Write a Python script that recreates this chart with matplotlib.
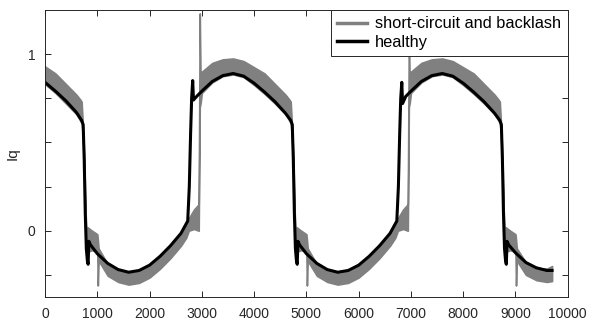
import matplotlib
matplotlib.use("Agg")
import matplotlib.pyplot as plt
from matplotlib.lines import Line2D
from matplotlib.ticker import FixedLocator, FixedFormatter

plt.rcParams['font.family'] = ['Liberation Sans', 'DejaVu Sans']

# healthy Iq
healthy_x = [0, 200, 400, 600, 700, 730, 750, 770, 790, 810, 825, 838, 870, 1000, 1200, 1400, 1600, 1800, 2000, 2200, 2400, 2600, 2730, 2760, 2785, 2805, 2825, 2840, 2900, 3000, 3200, 3400, 3600, 3800,
             4000, 4200, 4400, 4600, 4700, 4730, 4750, 4770, 4790, 4810, 4825, 4838, 4870, 5000, 5200, 5400, 5600, 5800, 6000, 6200, 6400, 6600, 6730, 6760, 6785, 6805, 6825, 6840, 6900, 7000, 7200, 7400, 7600, 7800,
             8000, 8200, 8400, 8600, 8700, 8730, 8750, 8770, 8790, 8810, 8825, 8838, 8870, 9000, 9200, 9400, 9600, 9700]
healthy_y = [0.84, 0.79, 0.735, 0.67, 0.625, 0.60, 0.40, 0.10, -0.10, -0.17, -0.19, -0.06, -0.08, -0.13, -0.185, -0.22, -0.235, -0.225, -0.195, -0.145, -0.085, -0.015, 0.055, 0.25, 0.55, 0.75, 0.85, 0.74, 0.76, 0.79, 0.845, 0.878, 0.89, 0.875,
             0.835, 0.785, 0.73, 0.665, 0.625, 0.60, 0.40, 0.10, -0.10, -0.17, -0.19, -0.06, -0.08, -0.13, -0.185, -0.22, -0.235, -0.225, -0.195, -0.145, -0.085, -0.015, 0.055, 0.25, 0.55, 0.75, 0.84, 0.72, 0.76, 0.79, 0.845, 0.878, 0.89, 0.875,
             0.835, 0.785, 0.73, 0.665, 0.625, 0.60, 0.40, 0.10, -0.10, -0.17, -0.19, -0.06, -0.08, -0.125, -0.18, -0.21, -0.225, -0.225]

# short-circuit and backlash Iq: envelope of the fast oscillation
fault_x = [0, 200, 400, 600, 680, 700, 720, 750, 770, 790, 810, 900, 1000, 1010, 1025, 1200, 1400, 1600, 1800, 2000, 2200, 2400, 2600, 2700, 2750, 2850, 2940, 2960, 2975, 3000, 3200, 3400, 3600, 3800,
           4000, 4200, 4400, 4600, 4680, 4700, 4720, 4750, 4770, 4790, 4810, 4900, 5000, 5010, 5025, 5200, 5400, 5600, 5800, 6000, 6200, 6400, 6600, 6700, 6750, 6850, 6940, 6960, 6975, 7000, 7200, 7400, 7600, 7800,
           8000, 8200, 8400, 8600, 8680, 8700, 8720, 8750, 8770, 8790, 8810, 8900, 9000, 9010, 9025, 9200, 9400, 9600, 9700]
fault_lo = [0.83, 0.78, 0.72, 0.66, 0.62, 0.61, 0.55, 0.35, 0.08, -0.09, -0.12, -0.11, -0.12, -0.31, -0.17, -0.255, -0.29, -0.305, -0.295, -0.265, -0.215, -0.155, -0.085, -0.04, 0.0, 0.01, 0.0, 0.70, 0.72, 0.78, 0.84, 0.875, 0.885, 0.87,
            0.825, 0.775, 0.72, 0.66, 0.62, 0.61, 0.55, 0.35, 0.08, -0.09, -0.12, -0.11, -0.12, -0.31, -0.17, -0.255, -0.29, -0.305, -0.295, -0.265, -0.215, -0.155, -0.085, -0.04, 0.0, 0.01, 0.0, 0.70, 0.72, 0.78, 0.84, 0.875, 0.885, 0.87,
            0.825, 0.775, 0.72, 0.66, 0.62, 0.61, 0.55, 0.35, 0.08, -0.09, -0.12, -0.11, -0.12, -0.31, -0.17, -0.25, -0.28, -0.29, -0.285]
fault_hi = [0.93, 0.89, 0.83, 0.77, 0.74, 0.73, 0.62, 0.42, 0.15, 0.0, 0.02, 0.0, -0.02, -0.05, -0.10, -0.19, -0.22, -0.235, -0.225, -0.195, -0.145, -0.085, -0.015, 0.03, 0.07, 0.12, 0.15, 1.23, 0.87, 0.90, 0.95, 0.97, 0.975, 0.96,
            0.925, 0.89, 0.83, 0.77, 0.74, 0.73, 0.62, 0.42, 0.15, 0.0, 0.02, 0.0, -0.02, -0.05, -0.10, -0.19, -0.22, -0.235, -0.225, -0.195, -0.145, -0.085, -0.015, 0.03, 0.07, 0.12, 0.15, 1.10, 0.87, 0.90, 0.95, 0.97, 0.975, 0.96,
            0.925, 0.89, 0.83, 0.77, 0.74, 0.73, 0.62, 0.42, 0.15, 0.0, 0.02, 0.0, -0.02, -0.05, -0.10, -0.18, -0.21, -0.215, -0.2]

xticks = [0, 1000, 2000, 3000, 4000, 5000, 6000, 7000, 8000, 9000, 10000]
yticks = [-0.25, 0, 0.25, 0.5, 0.75, 1.0]
ytick_labels = ['', '0', '', '', '', '1']

fig = plt.figure(figsize=(5.9, 3.2), dpi=100)
ax = fig.add_axes([0.0763, 0.072, 0.886, 0.897])

gray = '#808080'
ax.fill_between(fault_x, fault_lo, fault_hi, color=gray, linewidth=1.2, edgecolor=gray)
ax.plot(healthy_x, healthy_y, color='black', linewidth=2.2, solid_joinstyle='round')

ax.set_xlim(0, 10000)
ax.set_ylim(-0.375, 1.25)
ax.xaxis.set_major_locator(FixedLocator(xticks))
ax.set_xticklabels([str(t) for t in xticks])
ax.yaxis.set_major_locator(FixedLocator(yticks))
ax.yaxis.set_major_formatter(FixedFormatter(ytick_labels))
ax.tick_params(direction='in', length=4, width=0.7, top=True, right=True,
               labelsize=10, colors='#262626', pad=7)
for s in ax.spines.values():
    s.set_color('#262626')
    s.set_linewidth(0.7)
ax.set_ylabel('Iq', fontsize=11, color='#262626', labelpad=6)

handles = [Line2D([], [], color=gray, linewidth=2.5), Line2D([], [], color='black', linewidth=2.5)]
leg = ax.legend(handles, ['short-circuit and backlash', 'healthy'], loc='upper right',
                fontsize=11.8, frameon=True, fancybox=False, framealpha=1, edgecolor='#262626',
                borderaxespad=0, borderpad=0.4, handlelength=1.8, handletextpad=0.5, labelspacing=0.2)
leg.get_frame().set_linewidth(0.7)
leg.set_zorder(5)

fig.savefig('out.png', dpi=100)
